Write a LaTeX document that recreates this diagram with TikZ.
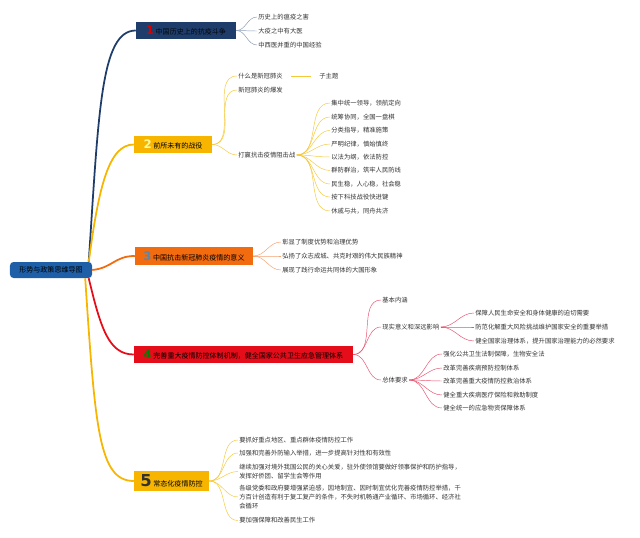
\documentclass[tikz,border=0pt]{standalone}
\usepackage{fontspec}
\setmainfont{Noto Sans CJK SC}
\newfontfamily\numfont{DejaVu Sans}
\usetikzlibrary{positioning}
\definecolor{rootblue}{HTML}{1E5FA8}
\definecolor{navy}{HTML}{1E3D6B}
\definecolor{gold}{HTML}{F7B500}
\definecolor{orangeb}{HTML}{F26B0F}
\definecolor{redb}{HTML}{E60D1A}
\definecolor{numthree}{HTML}{5B87A8}
\definecolor{twignavy}{HTML}{8A9BB5}
\definecolor{twiggold}{HTML}{F5C838}
\definecolor{twigorange}{HTML}{F4A070}
\definecolor{twigred}{HTML}{E8506E}
\tikzstyle{root} = [rectangle, rounded corners=3pt, minimum width=2.46cm, minimum height=0.48cm, fill=rootblue, text=black, font=\fontsize{6}{7}\selectfont]
\tikzstyle{topic} = [rectangle, minimum height=0.46cm, inner xsep=2pt, text=black, font=\fontsize{6}{7}\selectfont]
\tikzstyle{leaf} = [anchor=west, inner sep=1pt, align=left, text=black!80, font=\fontsize{5.4}{7.7}\selectfont]
\tikzstyle{branch} = [line width=1.5pt]
\tikzstyle{twig} = [line width=0.4pt]
\newcommand{\topicnum}[2]{{\numfont\bfseries\fontsize{10}{10}\selectfont\color{#1}#2}\ }

\begin{document}
\begin{tikzpicture}[x=0.03cm, y=-0.03cm]
\useasboundingbox (0,0) rectangle (640,538);

% Mittelpunkt
\node (root) [root] at (51,270) {形势与政策思维导图};

% Hauptthemen
\node (n1) [topic, fill=navy, text=black!90!navy, minimum width=3cm] at (186,30.5) {\topicnum{red!85!black}{1}中国历史上的抗疫斗争};
\node (n2) [topic, fill=gold, minimum width=2.34cm] at (173,144.5) {\topicnum{yellow!40}{2}前所未有的战役};
\node (n3) [topic, fill=orangeb, minimum width=3.54cm] at (194,256) {\topicnum{numthree}{3}中国抗击新冠肺炎疫情的意义};
\node (n4) [topic, fill=redb, minimum width=6.57cm] at (243.5,354.5) {\topicnum{green!50!black}{4}完善重大疫情防控体制机制，健全国家公共卫生应急管理体系};
\node (n5) [topic, fill=gold, minimum width=2.25cm, minimum height=0.54cm] at (171.5,481) {{\numfont\bfseries\fontsize{14}{14}\selectfont\color{black!80}5}\ 常态化疫情防控};

\draw [branch, navy] ([xshift=-3pt]root.north east) .. controls +(10,-150) and +(-35,0) .. (n1.west);
\draw [branch, gold] ([xshift=-3pt]root.north east) .. controls +(10,-75) and +(-25,0) .. (n2.west);
\draw [branch, orangeb] (root.east) .. controls +(20,-2) and +(-20,0) .. (n3.west);
\draw [branch, redb] ([xshift=-3pt]root.south east) .. controls +(12,50) and +(-25,0) .. (n4.west);
\draw [branch, gold] ([xshift=-6pt]root.south east) .. controls +(10,150) and +(-35,0) .. (n5.west);

% 1
\node (a1) [leaf] at (257,17) {历史上的瘟疫之害};
\node (a2) [leaf] at (257,31) {大疫之中有大医};
\node (a3) [leaf] at (257,45) {中西医并重的中国经验};
\foreach \c in {a1,a2,a3}
  \draw [twig, twignavy] (n1.east) to[out=0,in=180] (\c.west);

% 2
\node (b1) [leaf] at (237,76) {什么是新冠肺炎};
\node (b1s) [leaf] at (318,76) {子主题};
\node (b2) [leaf] at (237,90) {新冠肺炎的爆发};
\node (b3) [leaf] at (237,155) {打赢抗击疫情阻击战};
\node (c1) [leaf] at (330,103) {集中统一领导，领航定向};
\node (c2) [leaf] at (330,117) {统筹协同，全国一盘棋};
\node (c3) [leaf] at (330,130.5) {分类指导，精准施策};
\node (c4) [leaf] at (330,144) {严明纪律，慎始慎终};
\node (c5) [leaf] at (330,157) {以法为纲，依法防控};
\node (c6) [leaf] at (330,170.5) {群防群治，筑牢人民防线};
\node (c7) [leaf] at (330,184) {民生稳，人心稳，社会稳};
\node (c8) [leaf] at (330,197) {按下科技战役快进键};
\node (c9) [leaf] at (330,211) {休戚与共，同舟共济};
\foreach \c in {b1,b2,b3}
  \draw [twig, twiggold] (n2.east) to[out=0,in=180] (\c.west);
\draw [twig, twiggold] ([xshift=6pt]b1.east) -- ([xshift=-6pt]b1s.west);
\foreach \c in {c1,c2,c3,c4,c5,c6,c7,c8,c9}
  \draw [twig, twiggold] (b3.east) to[out=0,in=180] (\c.west);

% 3
\node (d1) [leaf] at (281,242) {彰显了制度优势和治理优势};
\node (d2) [leaf] at (281,256) {弘扬了众志成城、共克时艰的伟大民族精神};
\node (d3) [leaf] at (281,270) {展现了践行命运共同体的大国形象};
\foreach \c in {d1,d2,d3}
  \draw [twig, twigorange] (n3.east) to[out=0,in=180] (\c.west);

% 4
\node (e1) [leaf] at (381,300) {基本内涵};
\node (e2) [leaf] at (381,327) {现实意义和深远影响};
\node (e3) [leaf] at (381,380) {总体要求};
\node (f1) [leaf] at (474,313) {保障人民生命安全和身体健康的迫切需要};
\node (f2) [leaf] at (474,327) {防范化解重大风险挑战维护国家安全的重要举措};
\node (f3) [leaf] at (474,341) {健全国家治理体系，提升国家治理能力的必然要求};
\node (g1) [leaf] at (442,354) {强化公共卫生法制保障，生物安全法};
\node (g2) [leaf] at (442,368) {改革完善疾病预防控制体系};
\node (g3) [leaf] at (442,381) {改革完善重大疫情防控救治体系};
\node (g4) [leaf] at (442,395) {健全重大疾病医疗保险和救助制度};
\node (g5) [leaf] at (442,408) {健全统一的应急物资保障体系};
\foreach \c in {e1,e2,e3}
  \draw [twig, twigred] (n4.east) to[out=0,in=180] (\c.west);
\foreach \c in {f1,f2,f3}
  \draw [twig, twigred] (e2.east) to[out=0,in=180] (\c.west);
\foreach \c in {g1,g2,g3,g4,g5}
  \draw [twig, twigred] (e3.east) to[out=0,in=180] (\c.west);

% 5
\node (h1) [leaf] at (238,440) {要抓好重点地区、重点群体疫情防控工作};
\node (h2) [leaf] at (238,453) {加强和完善外防输入举措，进一步提高针对性和有效性};
\node (h3) [leaf] at (238,471.5) {继续加强对境外我国公民的关心关爱，驻外使领馆要做好领事保护和防护指导，\\发挥好侨团、留学生会等作用};
\node (h4) [leaf] at (238,497) {各级党委和政府要增强紧迫感，因地制宜、因时制宜优化完善疫情防控举措，千\\方百计创造有利于复工复产的条件，不失时机畅通产业循环、市场循环、经济社\\会循环};
\node (h5) [leaf] at (238,520.5) {要加强保障和改善民生工作};
\foreach \c in {h1,h2,h3,h4,h5}
  \draw [twig, twiggold] (n5.east) to[out=0,in=180] (\c.west);

\end{tikzpicture}
\end{document}
